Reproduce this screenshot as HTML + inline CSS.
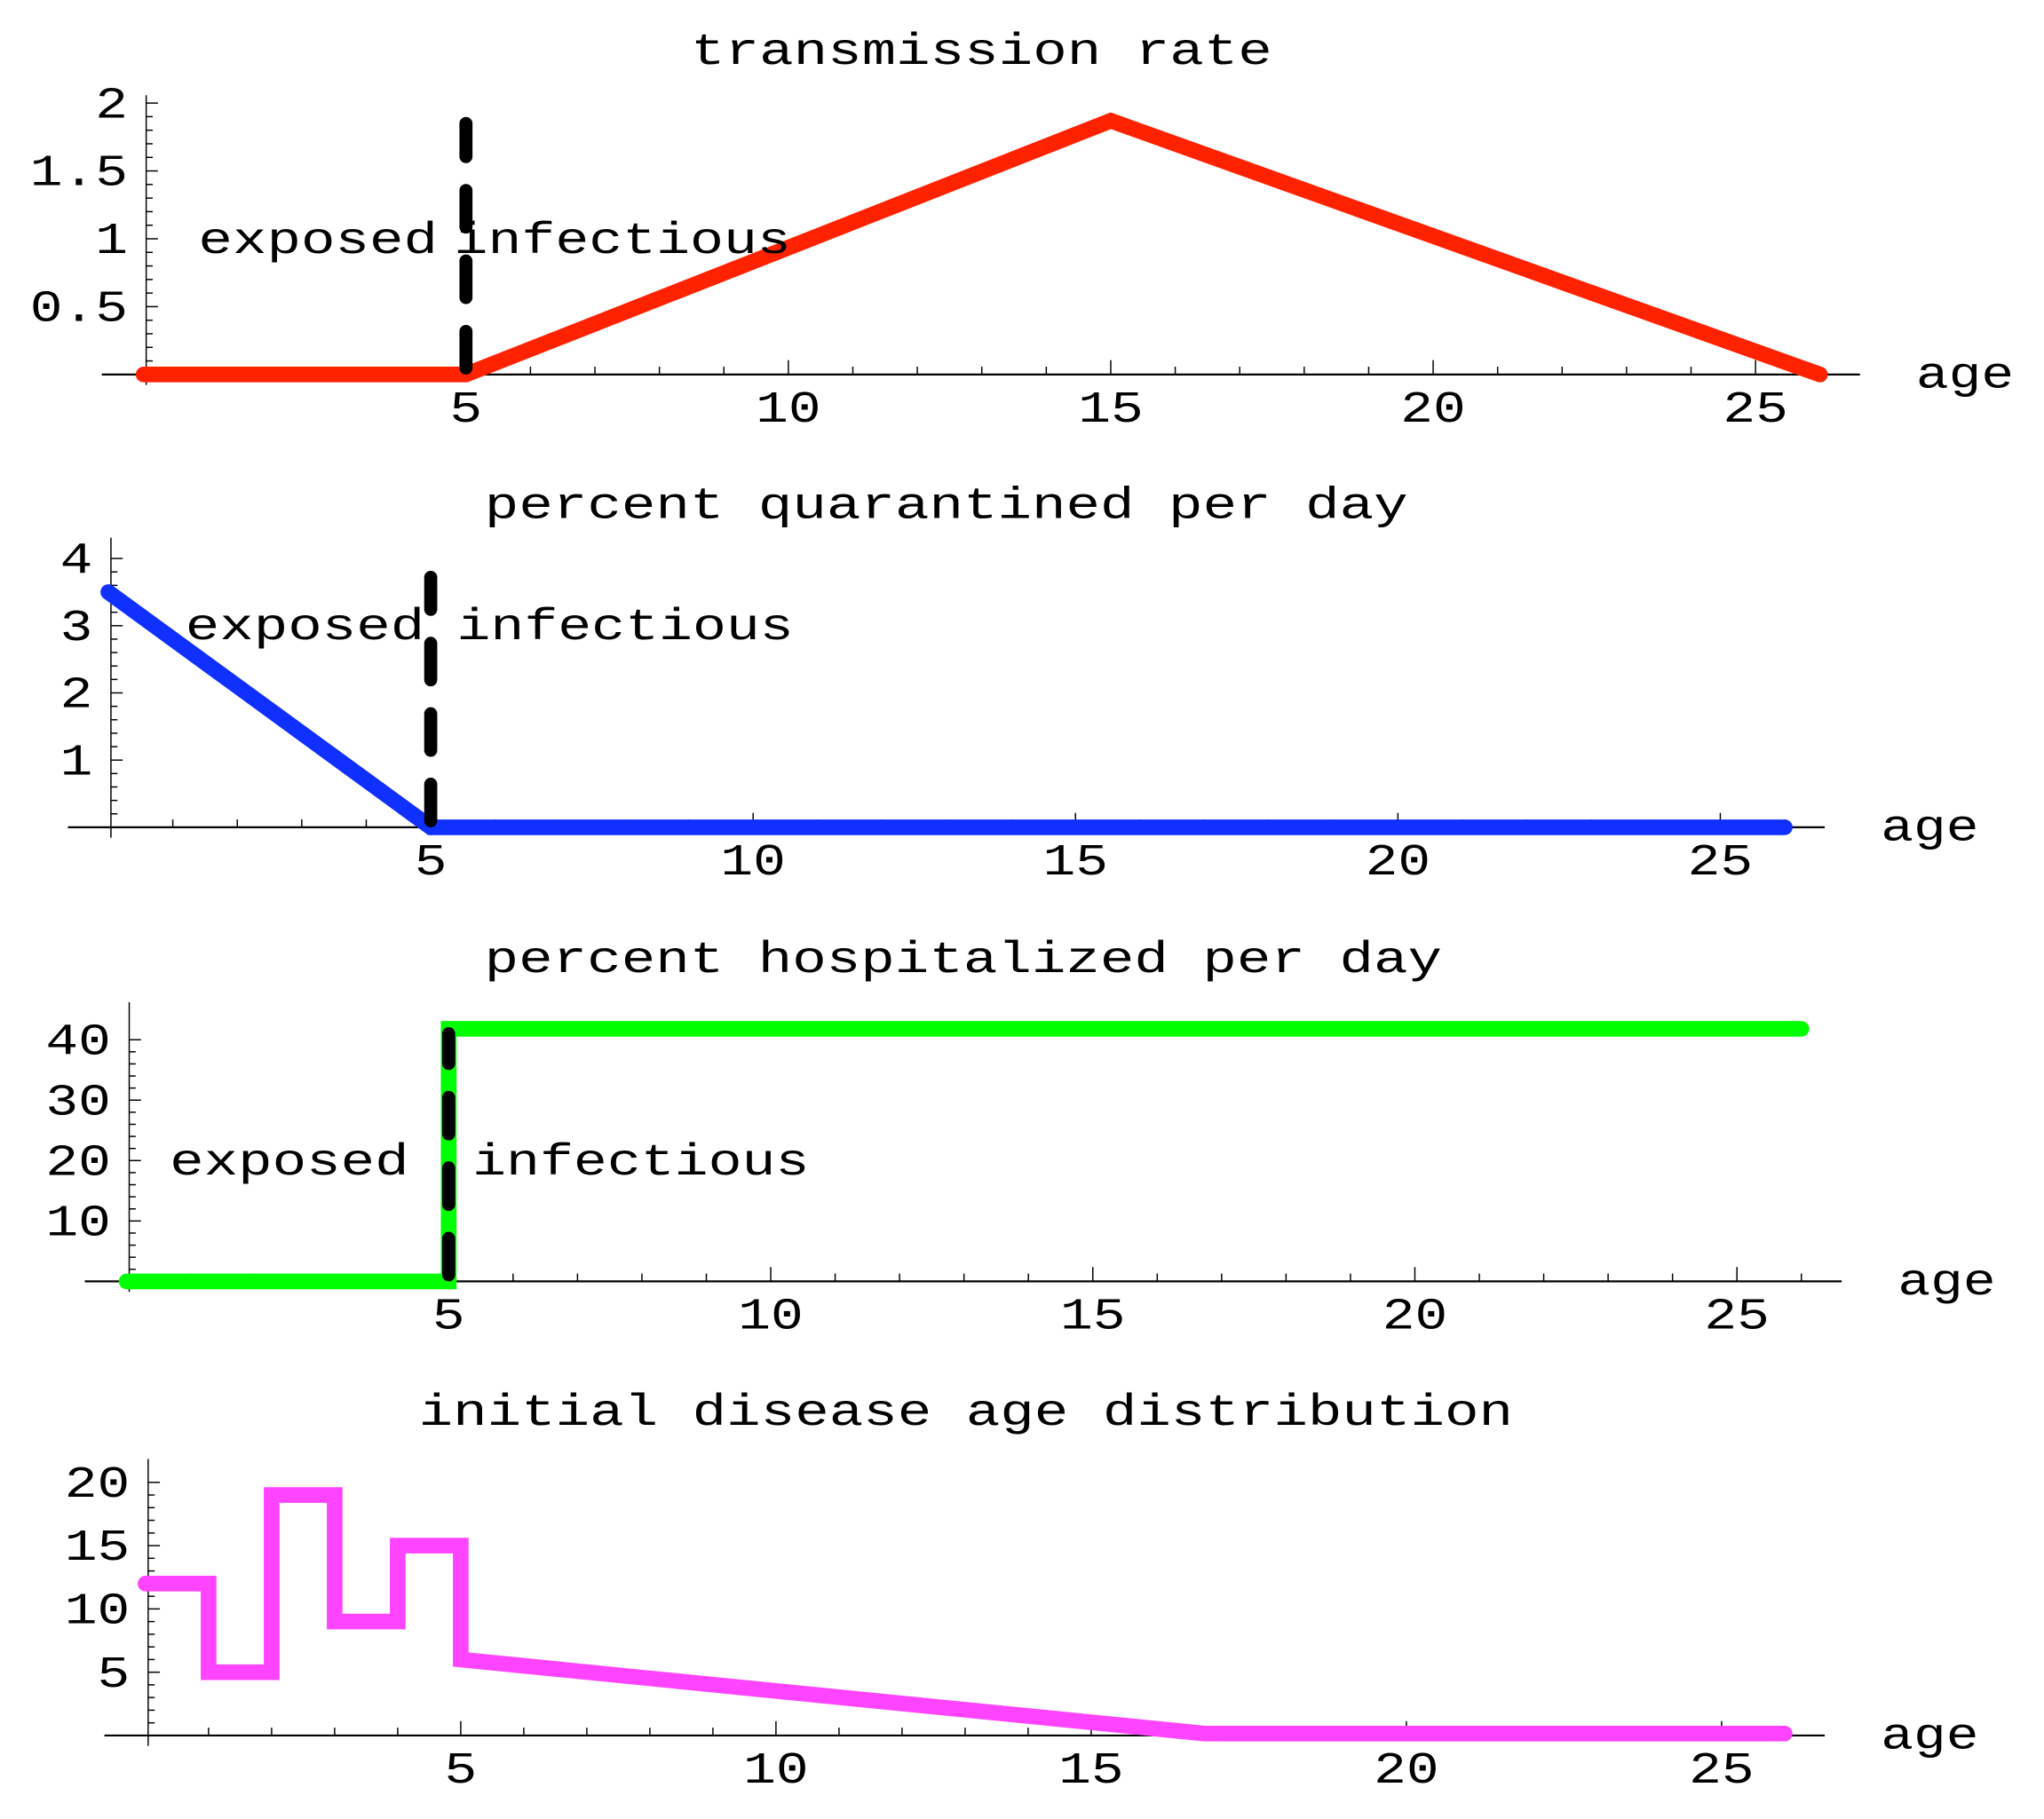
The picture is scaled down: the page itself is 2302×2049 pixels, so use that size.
<!DOCTYPE html>
<html><head><meta charset="utf-8"><style>html,body{margin:0;padding:0;background:#fff}svg{display:block}</style></head>
<body>
<svg id="c" width="2302" height="2049" viewBox="0 0 1566 1394" preserveAspectRatio="none" xmlns="http://www.w3.org/2000/svg"></svg>
<script>
const xTicks = [5, 10, 15, 20, 25];
const p1Y = [0.5, 1, 1.5, 2];
const p1Labels = ["0.5", "1", "1.5", "2"];
const p1X = [0, 5, 15, 26];
const p1V = [0, 0, 1.87, 0];
const p2Y = [1, 2, 3, 4];
const p2X = [0, 5, 26];
const p2V = [3.5, 0, 0];
const p3Y = [10, 20, 30, 40];
const p3X = [0, 5, 5, 26];
const p3V = [0, 0, 41.8, 41.8];
const p4Y = [5, 10, 15, 20];
const p4X = [0, 1, 1, 2, 2, 3, 3, 4, 4, 5, 5, 16.8, 26];
const p4V = [12, 12, 5, 5, 19, 19, 9, 9, 15, 15, 6, 0.15, 0.15];

const NS = "http://www.w3.org/2000/svg";
const svg = document.getElementById('c');
function mk(tag, attrs, parent) {
  const e = document.createElementNS(NS, tag);
  for (const k in attrs) e.setAttribute(k, attrs[k]);
  (parent || svg).appendChild(e);
  return e;
}
function txt(g, s, x, y, anchor, perChar) {
  const t = mk('text', {x: x, y: y, 'text-anchor': anchor, 'font-family': 'Liberation Mono, monospace', 'font-size': 34, textLength: s.length * perChar, lengthAdjust: 'spacingAndGlyphs', fill: '#000'}, g);
  t.textContent = s;
  return t;
}
function panel(cfg) {
  const g = mk('g', {});
  
  
  const sx = v => cfg.x0 + v * cfg.kx;
  const sy = v => cfg.y0 - v * cfg.ky;
  const title = txt(g, cfg.title, cfg.tx, cfg.ty, 'middle', 26.2);
  
  
  const xa = mk('line', {x1: cfg.ax1, x2: cfg.ax2, y1: cfg.y0, y2: cfg.y0, stroke: '#000', 'stroke-width': 1.5}, g);
  
  
  const ya = mk('line', {x1: sx(0) + 2, x2: sx(0) + 2, y1: cfg.ytop, y2: cfg.y0 + 8, stroke: '#000', 'stroke-width': 1}, g);
  
  
  for (let i = 1; i <= 26; i++) {
    const major = i % 5 === 0;
    mk('line', {x1: sx(i), x2: sx(i), y1: cfg.y0, y2: cfg.y0 - (major ? 11 : 6), stroke: '#000', 'stroke-width': 1}, g);
  }
  xTicks.forEach(v => {
    const t = txt(g, String(v), sx(v), cfg.y0 + 36, 'middle', 25);
    
    
  });
  const al = txt(g, 'age', cfg.ax2 + 43, cfg.y0 + 10, 'start', 25);
  
  
  const ymax = cfg.yT[cfg.yT.length - 1] * 1.02;
  for (let v = cfg.minor; v <= ymax + 1e-9; v += cfg.minor) {
    const isMaj = cfg.yT.some(m => Math.abs(m - v) < 1e-6);
    mk('line', {x1: sx(0) + 2, x2: sx(0) + 2 + (isMaj ? 9 : 5), y1: sy(v), y2: sy(v), stroke: '#000', 'stroke-width': 1}, g);
  }
  cfg.yT.forEach((v, i) => {
    const s = cfg.yL ? cfg.yL[i] : String(v);
    const t = txt(g, s, sx(0) - 12, sy(v) + 11, 'end', 25);
    
    
  });
  let d = '';
  cfg.xs.forEach((x, i) => { d += (i ? 'L' : 'M') + sx(x) + ' ' + sy(cfg.vs[i]); });
  const ln = mk('path', {d: d, fill: 'none', stroke: cfg.color, 'stroke-width': 12, 'stroke-linecap': 'round', 'stroke-linejoin': 'miter'}, g);
  
  
  if (cfg.dashTop !== undefined) {
    const dl = mk('line', {x1: sx(5), x2: sx(5), y1: sy(0) - 5, y2: sy(cfg.dashTop), stroke: '#000', 'stroke-width': 10, 'stroke-linecap': 'round', 'stroke-dasharray': '28 26'}, g);
    
    
    const e = txt(g, 'exposed', cfg.ex, cfg.ey, 'start', 26.2);
    
    
    const f = txt(g, 'infectious', cfg.ix, cfg.ey, 'start', 25.8);
    
    
  }
}
panel({name: 'transmission-rate-panel', title: 'transmission rate', tx: 752, ty: 49, x0: 110, kx: 49.4, y0: 287, ky: 104, ax1: 78, ax2: 1425, ytop: 73, yT: p1Y, yL: p1Labels, minor: 0.1, xs: p1X, vs: p1V, color: '#ff2200', dashTop: 1.85, ex: 152, ix: 348, ey: 194});
panel({name: 'quarantine-panel', title: 'percent quarantined per day', tx: 725, ty: 397, x0: 83, kx: 49.4, y0: 634, ky: 51.5, ax1: 52, ax2: 1398, ytop: 412, yT: p2Y, minor: 0.2, xs: p2X, vs: p2V, color: '#1030ff', dashTop: 3.72, ex: 142, ix: 350, ey: 490});
panel({name: 'hospitalized-panel', title: 'percent hospitalized per day', tx: 738, ty: 745, x0: 97, kx: 49.35, y0: 982, ky: 4.63, ax1: 65, ax2: 1411, ytop: 768, yT: p3Y, minor: 2, xs: p3X, vs: p3V, color: '#00ff00', dashTop: 41, ex: 130, ix: 362, ey: 900});
panel({name: 'age-distribution-panel', title: 'initial disease age distribution', tx: 740, ty: 1092, x0: 111.5, kx: 48.3, y0: 1330, ky: 9.7, ax1: 80, ax2: 1398, ytop: 1118, yT: p4Y, minor: 1, xs: p4X, vs: p4V, color: '#ff44ff'});
</script>
</body></html>
